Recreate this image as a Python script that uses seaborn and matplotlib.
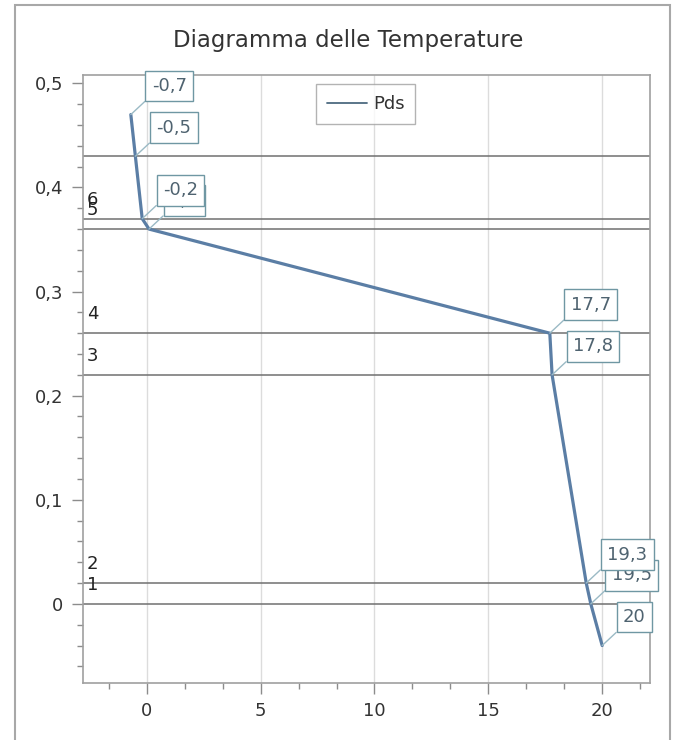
import matplotlib
matplotlib.use("Agg")
import matplotlib.pyplot as plt
from matplotlib.patches import Rectangle
from matplotlib.ticker import MultipleLocator, FuncFormatter, FixedLocator
from matplotlib.transforms import blended_transform_factory
import seaborn as sns
import pandas as pd

# Temperature profile through the wall layers
temperature = [20, 19.5, 19.3, 17.8, 17.7, 0.1, -0.2, -0.5, -0.7]
position = [-0.04, 0.0, 0.02, 0.22, 0.26, 0.36, 0.37, 0.43, 0.47]
boundaries = [0.0, 0.02, 0.22, 0.26, 0.36, 0.37, 0.43]
layer_names = ["1", "2", "3", "4", "5", "6"]
series_name = "Pds"
title = "Diagramma delle Temperature"
x_ticks = [0, 5, 10, 15, 20]
y_ticks = [0, 0.1, 0.2, 0.3, 0.4, 0.5]


def comma(v, pos=None):
    return f"{round(v, 6):g}".replace(".", ",")


sns.set_theme(style="white")
plt.rcParams["font.family"] = ["DejaVu Sans"]

W, H = 681, 740
fig = plt.figure(figsize=(W / 100, H / 100), dpi=100)
fig.patch.set_facecolor("white")
ax = fig.add_axes([83 / W, 1 - 683 / H, (650 - 83) / W, (683 - 75) / H])

line_color = "#5b7ea5"
box_edge = "#6f97a3"
box_text = "#4f6370"
leader = "#9bbac5"

df = pd.DataFrame({"Temperatura": temperature, "Spessore": position})
sns.lineplot(data=df, x="Temperatura", y="Spessore", sort=False, estimator=None,
             color=line_color, linewidth=2.3, ax=ax, label=series_name, zorder=4)

# layer interfaces
for b in boundaries:
    ax.axhline(b, color="#707070", linewidth=1.1, zorder=2)

# layer numbers, just above the lower interface of each layer
trans = blended_transform_factory(ax.transAxes, ax.transData)
for name, b in zip(layer_names, boundaries[:-1]):
    ax.annotate(name, xy=(0.007, b), xycoords=trans, xytext=(0, 7),
                textcoords="offset points", ha="left", va="bottom",
                fontsize=13, color="#222222", zorder=3)

# value tags on every point
for t, p in zip(temperature, position):
    ax.annotate(comma(t), xy=(t, p), xytext=(15, 14), textcoords="offset points",
                ha="left", va="bottom", fontsize=13, color=box_text,
                bbox=dict(boxstyle="square,pad=0.35", fc="white", ec=box_edge, lw=1.0),
                arrowprops=dict(arrowstyle="-", color=leader, lw=1.0,
                                shrinkA=0, shrinkB=0, relpos=(0, 0)),
                annotation_clip=False, zorder=5)

ax.set_xlim(-2.8, 22.1)
ax.set_ylim(-0.076, 0.508)
ax.set_xlabel("")
ax.set_ylabel("")

ax.xaxis.set_major_locator(FixedLocator(x_ticks))
ax.yaxis.set_major_locator(FixedLocator(y_ticks))
ax.xaxis.set_minor_locator(MultipleLocator(5 / 3))
ax.yaxis.set_minor_locator(MultipleLocator(0.02))
ax.xaxis.set_major_formatter(FuncFormatter(comma))
ax.yaxis.set_major_formatter(FuncFormatter(comma))

ax.tick_params(which="both", bottom=True, left=True, direction="out",
               color="#8c8c8c", width=1)
ax.tick_params(which="major", length=8, labelsize=13, labelcolor="#333333", pad=6)
ax.tick_params(which="minor", length=4)

ax.grid(axis="x", which="major", color="#dcdcdc", linewidth=1)
ax.set_axisbelow(True)
for s in ax.spines.values():
    s.set_color("#a0a0a0")
    s.set_linewidth(1.2)

leg = ax.legend(loc="upper left", bbox_to_anchor=(0.411, 0.985), borderaxespad=0,
                fontsize=13, frameon=True, fancybox=False, handlelength=2.2,
                borderpad=0.6, handletextpad=0.35)
leg.get_frame().set_edgecolor("#a0a0a0")
leg.get_frame().set_linewidth(1.0)
for ln in leg.get_lines():
    ln.set_linewidth(1.3)
    ln.set_color("#4d6a80")
for txt in leg.get_texts():
    txt.set_color("#333333")

fig.text(348 / W, 1 - 40 / H, title, ha="center", va="center",
         fontsize=16.5, color="#333333")

# panel border
fig.add_artist(Rectangle((15 / W, -0.05), (670 - 15) / W, 1.05 - 5 / H,
                         transform=fig.transFigure, fill=False,
                         edgecolor="#a8a8a8", linewidth=1.5))

fig.savefig("out.png", dpi=100)
